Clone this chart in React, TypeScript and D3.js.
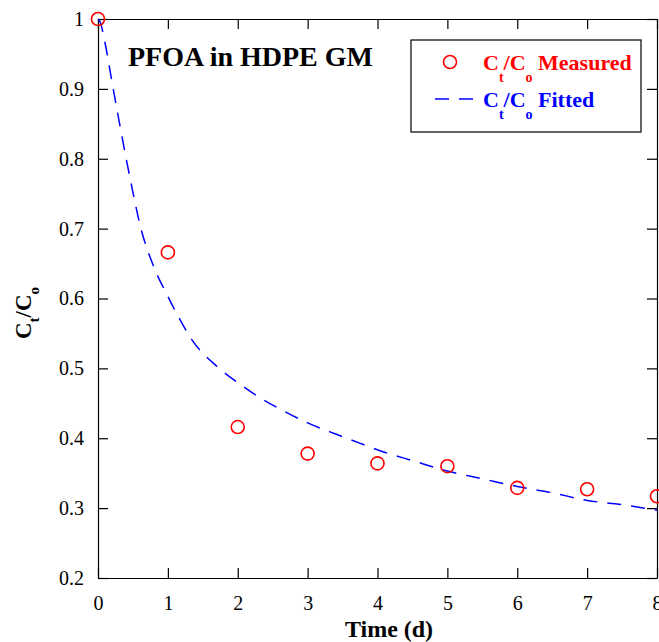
import React, { useEffect, useRef } from "react";
import * as d3 from "d3";

const measuredTime = [0, 1, 2, 3, 4, 5, 6, 7, 8];
const measuredValue = [1.0, 0.666, 0.416, 0.378, 0.364, 0.36, 0.329, 0.327, 0.317];

const fittedTime = [0, 0.03, 0.1, 0.2, 0.3, 0.4, 0.5, 0.6, 0.8, 1.0, 1.15, 1.35, 1.7, 2.05, 2.3, 2.6, 3.0, 3.4, 3.8, 4.1, 4.5, 5.0, 5.5, 6.0, 6.5, 7.0, 7.5, 8.0];
const fittedValue = [1.0, 0.996, 0.966, 0.91, 0.855, 0.802, 0.752, 0.706, 0.645, 0.603, 0.574, 0.54, 0.503, 0.476, 0.459, 0.442, 0.422, 0.406, 0.391, 0.38, 0.368, 0.353, 0.342, 0.331, 0.322, 0.311, 0.305, 0.297];

const xTicks = [0, 1, 2, 3, 4, 5, 6, 7, 8];
const xTickLabels = ["0", "1", "2", "3", "4", "5", "6", "7", "8"];
const yTicks = [0.2, 0.3, 0.4, 0.5, 0.6, 0.7, 0.8, 0.9, 1.0];
const yTickLabels = ["0.2", "0.3", "0.4", "0.5", "0.6", "0.7", "0.8", "0.9", "1"];

const titleText = "PFOA in HDPE GM";
const xLabel = "Time (d)";

const FONT = "Liberation Serif, Tinos, Times New Roman, DejaVu Serif, serif";

export default function App() {
  const ref = useRef<SVGSVGElement>(null);

  useEffect(() => {
    const svg = d3.select(ref.current);
    svg.selectAll("*").remove();

    const x = d3.scaleLinear().domain([0, 8]).range([98, 657]);
    const y = d3.scaleLinear().domain([0.2, 1]).range([578, 19]);

    const styleAxis = (g: any) => {
      g.attr("font-family", FONT).attr("font-size", 20);
      g.select(".domain").attr("stroke", "#000").attr("stroke-width", 1.2);
      g.selectAll(".tick line").attr("stroke", "#000").attr("stroke-width", 1.2);
      g.selectAll(".tick text").attr("fill", "#000");
    };

    // bottom axis
    svg.append("g")
      .attr("transform", `translate(0,${y(0.2)})`)
      .call(
        d3.axisBottom(x).tickValues(xTicks).tickSizeInner(-10).tickSizeOuter(0).tickPadding(18)
          .tickFormat((d: any, i: number) => xTickLabels[i])
      )
      .call(styleAxis);

    // top axis
    svg.append("g")
      .attr("transform", `translate(0,${y(1)})`)
      .call(d3.axisTop(x).tickValues(xTicks).tickSizeInner(-10).tickSizeOuter(0).tickFormat(() => ""))
      .call(styleAxis);

    // left axis
    svg.append("g")
      .attr("transform", `translate(${x(0)},0)`)
      .call(
        d3.axisLeft(y).tickValues(yTicks).tickSizeInner(-10).tickSizeOuter(0).tickPadding(14)
          .tickFormat((d: any, i: number) => yTickLabels[i])
      )
      .call(styleAxis);

    // right axis
    svg.append("g")
      .attr("transform", `translate(${x(8)},0)`)
      .call(d3.axisRight(y).tickValues(yTicks).tickSizeInner(-10).tickSizeOuter(0).tickFormat(() => ""))
      .call(styleAxis);

    // fitted curve
    const fitted = fittedTime.map((t, i) => [t, fittedValue[i]] as [number, number]);
    const line = d3.line<[number, number]>()
      .x((d) => x(d[0]))
      .y((d) => y(d[1]))
      .curve(d3.curveMonotoneX);
    svg.append("path")
      .datum(fitted)
      .attr("d", line)
      .attr("fill", "none")
      .attr("stroke", "#0000ff")
      .attr("stroke-width", 1.5)
      .attr("stroke-dasharray", "14,10");

    // measured markers
    svg.append("g")
      .selectAll("circle")
      .data(measuredTime.map((t, i) => [t, measuredValue[i]]))
      .join("circle")
      .attr("cx", (d: any) => x(d[0]))
      .attr("cy", (d: any) => y(d[1]))
      .attr("r", 6.5)
      .attr("fill", "none")
      .attr("stroke", "#ff0000")
      .attr("stroke-width", 1.6);

    // title
    svg.append("text")
      .attr("x", 128)
      .attr("y", 66)
      .attr("font-family", FONT)
      .attr("font-size", 28)
      .attr("font-weight", "bold")
      .attr("fill", "#000")
      .text(titleText);

    // legend
    const lg = svg.append("g");
    lg.append("rect")
      .attr("x", 411).attr("y", 40).attr("width", 230).attr("height", 92)
      .attr("fill", "#fff").attr("stroke", "#000").attr("stroke-width", 1.2);
    lg.append("circle")
      .attr("cx", 450).attr("cy", 62).attr("r", 6.5)
      .attr("fill", "none").attr("stroke", "#ff0000").attr("stroke-width", 1.6);
    lg.append("line")
      .attr("x1", 435).attr("x2", 474).attr("y1", 99).attr("y2", 99)
      .attr("stroke", "#0000ff").attr("stroke-width", 1.5).attr("stroke-dasharray", "14,10");

    const legendRow = (yy: number, color: string, word: string) => {
      const t = lg.append("text")
        .attr("x", 483).attr("y", yy)
        .attr("fill", color)
        .attr("font-family", FONT)
        .attr("font-size", 22)
        .attr("font-weight", "bold");
      t.append("tspan").text("C");
      t.append("tspan").attr("dy", 12).attr("font-size", 14).text("t");
      t.append("tspan").attr("dy", -12).text("/C");
      t.append("tspan").attr("dy", 12).attr("font-size", 14).text("o");
      t.append("tspan").attr("dy", -12).text("\u00a0" + word);
    };
    legendRow(70, "#ff0000", "Measured");
    legendRow(107, "#0000ff", "Fitted");

    // x label
    svg.append("text")
      .attr("x", 389).attr("y", 637)
      .attr("text-anchor", "middle")
      .attr("font-family", FONT)
      .attr("font-size", 24)
      .attr("font-weight", "bold")
      .attr("fill", "#000")
      .text(xLabel);

    // y label
    const yl = svg.append("text")
      .attr("transform", "translate(31,339) rotate(-90)")
      .attr("font-family", FONT)
      .attr("font-size", 23)
      .attr("font-weight", "bold")
      .attr("fill", "#000");
    yl.append("tspan").text("C");
    yl.append("tspan").attr("dy", 8).attr("font-size", 15).text("t");
    yl.append("tspan").attr("dy", -8).text("/C");
    yl.append("tspan").attr("dy", 8).attr("font-size", 15).text("o");
  }, []);

  return (
    <svg
      ref={ref}
      width={659}
      height={642}
      style={{ position: "absolute", left: 0, top: 0, background: "#fff" }}
    />
  );
}
